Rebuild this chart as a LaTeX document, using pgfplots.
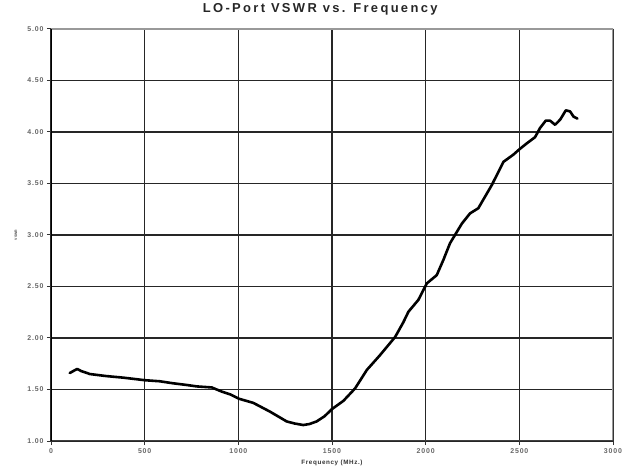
\documentclass[border=0pt]{standalone}
\usepackage{fontspec}
\setmainfont{Liberation Sans}
\usepackage{pgfplots}
\pgfplotsset{compat=1.18}
\begin{document}
\begin{tikzpicture}
\useasboundingbox (0,0) rectangle (632bp,472bp);
\begin{axis}[
  at={(51bp,31bp)}, anchor=south west,
  scale only axis, width=562bp, height=412bp,
  xmin=0, xmax=3000, ymin=1, ymax=5,
  xtick={0,500,...,3000}, ytick={1,1.5,...,5},
  xtick pos=bottom, ytick pos=left,
  tick align=outside, major tick length=4bp,
  tick style={black!80, line width=1bp},
  grid=major,
  major grid style={black!85, line width=1.35bp},
  axis line style={draw=none},
  /pgf/number format/assume math mode=true,
  /pgf/number format/1000 sep={},
  yticklabel style={/pgf/number format/fixed, /pgf/number format/fixed zerofill, /pgf/number format/precision=2},
  ticklabel style={font=\fontsize{7}{8}\selectfont\bfseries\addfontfeature{LetterSpace=12}, text=black!60},
  title={LO-Port VSWR vs. Frequency},
  title style={at={(axis description cs:0.479,1.034)}, anchor=center, font=\fontsize{13}{15}\selectfont\bfseries\addfontfeature{LetterSpace=18}, text=black!85},
  xlabel={Frequency (MHz.)},
  xlabel style={at={(axis description cs:0.5,-0.0534)}, anchor=center, font=\fontsize{6.3}{7}\selectfont\bfseries\addfontfeature{LetterSpace=10}, text=black!80},
  ylabel={VSWR},
  ylabel style={at={(axis description cs:-0.0623,0.5)}, anchor=center, font=\fontsize{3.5}{4}\selectfont\bfseries, text=black!70},
]
\addplot[black, line width=2.6bp, line join=round, line cap=round] coordinates {
(100,1.66) (120,1.68) (140,1.70) (160,1.68) (208,1.65) (297,1.63) (386,1.615)
(502,1.59) (580,1.58) (653,1.56) (720,1.545) (778,1.53) (858,1.52) (911,1.48)
(960,1.45) (1004,1.41) (1080,1.37) (1169,1.285) (1258,1.19) (1300,1.17)
(1347,1.155) (1380,1.165) (1418,1.19) (1460,1.24) (1500,1.31) (1561,1.39)
(1623,1.51) (1686,1.69) (1757,1.835) (1837,2.01) (1880,2.15) (1908,2.255)
(1961,2.37) (2006,2.53) (2059,2.61) (2095,2.76) (2130,2.92) (2193,3.11)
(2237,3.21) (2281,3.26) (2353,3.485) (2415,3.71) (2468,3.78) (2499,3.83)
(2540,3.89) (2584,3.95) (2611,4.04) (2641,4.11) (2664,4.11) (2691,4.07)
(2718,4.12) (2748,4.21) (2771,4.20) (2789,4.15) (2810,4.13)
};
\draw[black!40, line width=1.6bp] (rel axis cs:0,1) -- (rel axis cs:1,1) -- (rel axis cs:1,0);
\draw[black!75, line width=1.8bp] (rel axis cs:0,0) -- (rel axis cs:1,0);
\draw[black, line width=2bp] (rel axis cs:0,0) -- (rel axis cs:0,1);
\end{axis}
\end{tikzpicture}
\end{document}
